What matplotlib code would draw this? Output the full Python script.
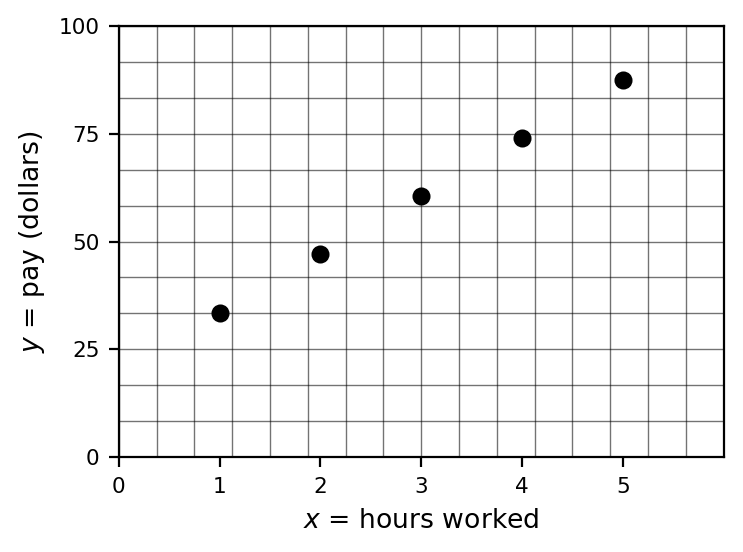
import numpy as np
import matplotlib
matplotlib.use('Agg')
import matplotlib.pyplot as plt

hours = [1, 2, 3, 4, 5]
pay = [33.5, 47, 60.5, 74, 87.5]
x_ticks = [0, 1, 2, 3, 4, 5]
y_ticks = [0, 25, 50, 75, 100]

fig = plt.figure(figsize=(3.715, 2.76), dpi=200)
ax = fig.add_axes([0.160, 0.172, 0.814, 0.781])

ax.plot(hours, pay, 'o', color='k', ms=5.5, zorder=5)

ax.set_xlim(0, 6)
ax.set_ylim(0, 100)
ax.set_xticks(x_ticks)
ax.set_yticks(y_ticks)
# grid every 6/16 hour and 100/12 dollars, kept also where it hits a major tick
ax.xaxis.remove_overlapping_locs = False
ax.yaxis.remove_overlapping_locs = False
ax.set_xticks(np.arange(0, 6.01, 6 / 16), minor=True)
ax.set_yticks(np.arange(0, 100.01, 100 / 12), minor=True)
ax.tick_params(which='minor', length=0)
ax.tick_params(which='major', labelsize=7.8, length=3.5, width=0.8)
ax.grid(which='minor', color='k', alpha=0.55, lw=0.5)

ax.set_xlabel('$x$ = hours worked', fontsize=9.6)
ax.set_ylabel('$y$ = pay (dollars)', fontsize=9.6)

plt.savefig('out.png', dpi=200)
